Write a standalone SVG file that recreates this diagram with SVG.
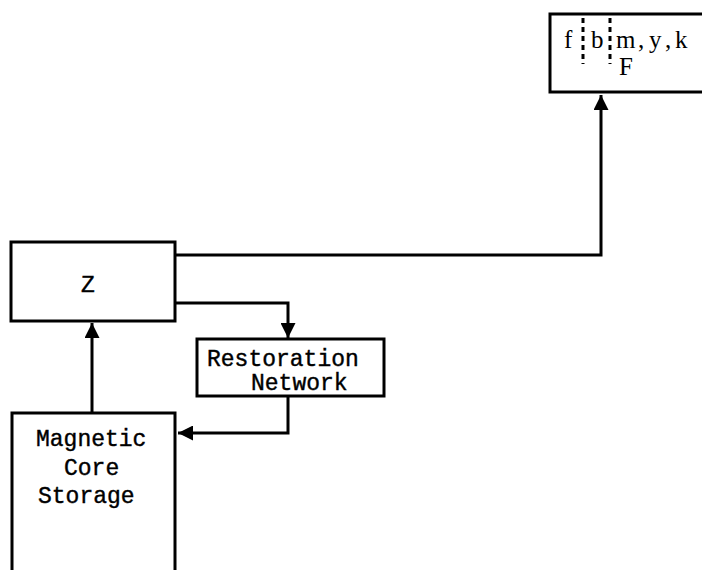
<svg xmlns="http://www.w3.org/2000/svg" width="702" height="570" viewBox="0 0 702 570">
<style>
.box{fill:#fff;stroke:#000;stroke-width:3}
.t{font-family:"Liberation Mono","Courier New",monospace;font-size:23px;fill:#000;stroke:#000;stroke-width:0.4}
.s{font-family:"Liberation Serif","Times New Roman",serif;font-size:25px;fill:#000}
.ln{fill:none;stroke:#000;stroke-width:3}
.dot{stroke:#000;stroke-width:3;stroke-dasharray:5 4}
</style>
<defs>
<marker id="ah" viewBox="0 0 10 10" refX="10" refY="5" markerWidth="5" markerHeight="5" markerUnits="strokeWidth" orient="auto">
<path d="M0,0 L10,5 L0,10 Z" fill="#000"/>
</marker>
</defs>
<rect width="702" height="570" fill="#fff"/>
<g id="connectors">
<path class="ln" d="M176,255 H601 V95" marker-end="url(#ah)"/>
<path class="ln" d="M176,303 H288 V338" marker-end="url(#ah)"/>
<path class="ln" d="M288,396 V433 H178" marker-end="url(#ah)"/>
<path class="ln" d="M92,413 V323" marker-end="url(#ah)"/>
</g>
<g id="node-fbm">
<rect class="box" x="550" y="14" width="156" height="78"/>
<text class="s" x="564" y="48">f</text>
<line class="dot" x1="583" y1="18" x2="583" y2="64"/>
<text class="s" x="591" y="48">b</text>
<line class="dot" x1="610" y1="18" x2="610" y2="64"/>
<text class="s" x="616 638 649 665 675" y="48">m,y,k</text>
<text class="s" x="619" y="75">F</text>
</g>
<g id="node-z">
<rect class="box" x="11" y="242" width="164" height="79"/>
<text class="t" x="88" y="292" text-anchor="middle">Z</text>
</g>
<g id="node-restoration">
<rect class="box" x="197" y="339" width="187" height="57"/>
<text class="t" x="207" y="366">Restoration</text>
<text class="t" x="251" y="390">Network</text>
</g>
<g id="node-magnetic">
<rect class="box" x="12" y="413" width="163" height="170"/>
<text class="t" x="36" y="446">Magnetic</text>
<text class="t" x="64" y="475">Core</text>
<text class="t" x="38" y="503">Storage</text>
</g>
</svg>
